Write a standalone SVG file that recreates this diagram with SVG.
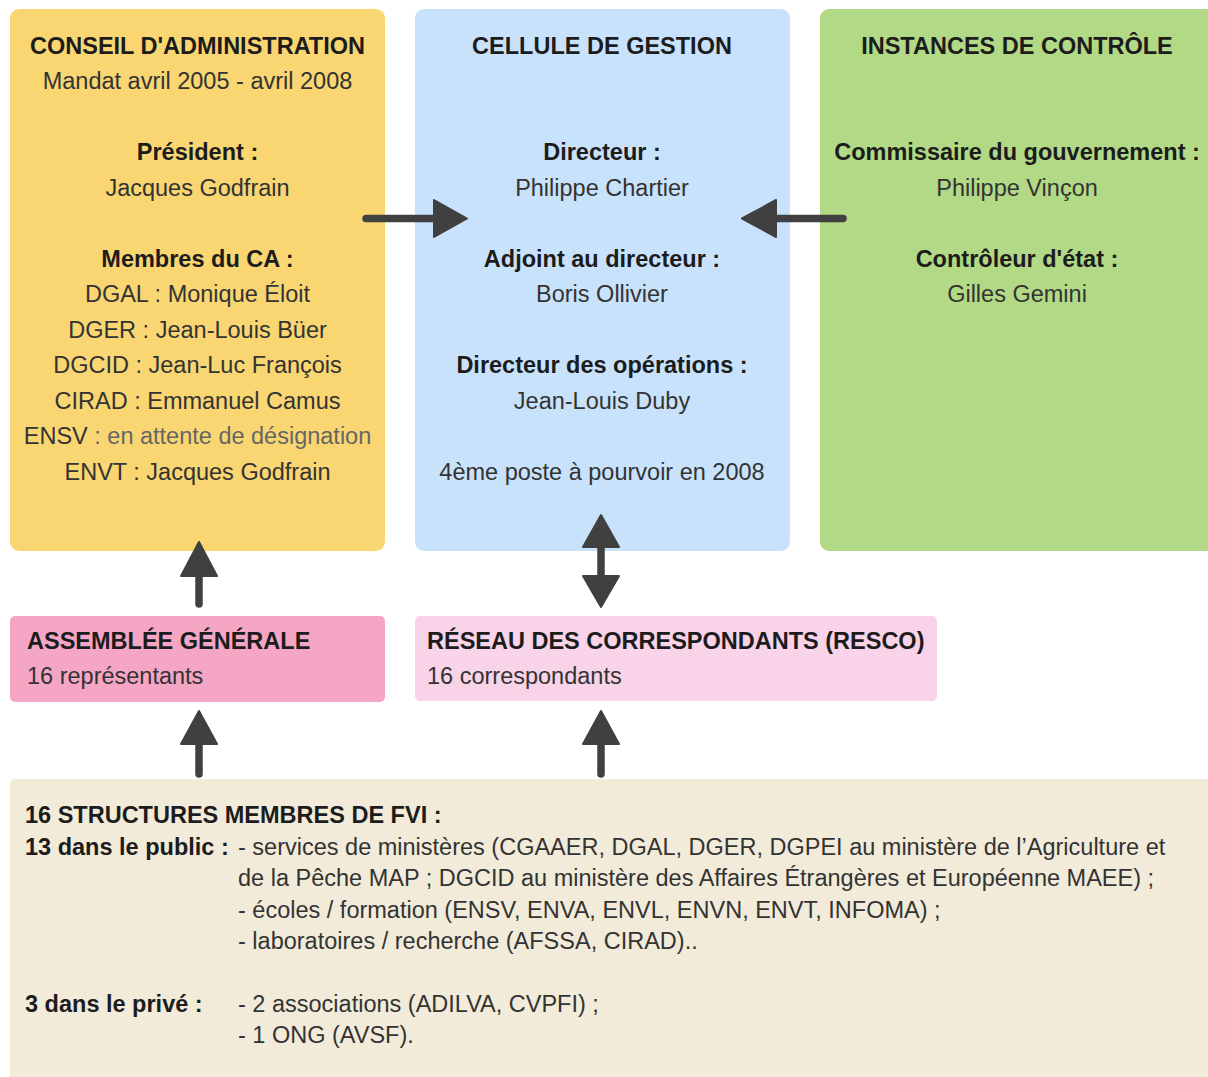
<svg xmlns="http://www.w3.org/2000/svg" width="1208" height="1077" viewBox="0 0 1208 1077">
<defs>
<style>
text{font-family:"Liberation Sans",Arial,sans-serif;font-size:23.5px;fill:#333}
.b{font-weight:bold;fill:#1c1c1c}
.c{text-anchor:middle}
.g{fill:#666}
.box{stroke:none}
.conn line{stroke:#404040;stroke-width:7.5;stroke-linecap:round}
.conn polygon{fill:#404040;stroke:#404040;stroke-width:2;stroke-linejoin:round}
</style>
</defs>
<rect width="1208" height="1077" fill="#ffffff"/>

<g id="conseil">
<rect class="box" x="10" y="9" width="375" height="542" rx="9" fill="#f9d672"/>
<text class="b c" x="197.5" y="53.5">CONSEIL D'ADMINISTRATION</text>
<text class="c" x="197.5" y="89">Mandat avril 2005 - avril 2008</text>
<text class="b c" x="197.5" y="160">Président :</text>
<text class="c" x="197.5" y="195.5">Jacques Godfrain</text>
<text class="b c" x="197.5" y="266.5">Membres du CA :</text>
<text class="c" x="197.5" y="302">DGAL : Monique Éloit</text>
<text class="c" x="197.5" y="337.5">DGER : Jean-Louis Büer</text>
<text class="c" x="197.5" y="373">DGCID : Jean-Luc François</text>
<text class="c" x="197.5" y="408.5">CIRAD : Emmanuel Camus</text>
<text class="c" x="197.5" y="444">ENSV<tspan class="g"> : en attente de désignation</tspan></text>
<text class="c" x="197.5" y="479.5">ENVT : Jacques Godfrain</text>
</g>

<g id="cellule">
<rect class="box" x="415" y="9" width="375" height="542" rx="9" fill="#c9e2fb"/>
<text class="b c" x="602" y="53.5">CELLULE DE GESTION</text>
<text class="b c" x="602" y="160">Directeur :</text>
<text class="c" x="602" y="195.5">Philippe Chartier</text>
<text class="b c" x="602" y="266.5">Adjoint au directeur :</text>
<text class="c" x="602" y="302">Boris Ollivier</text>
<text class="b c" x="602" y="373">Directeur des opérations :</text>
<text class="c" x="602" y="408.5">Jean-Louis Duby</text>
<text class="c" x="602" y="479.5" fill="#555">4ème poste à pourvoir en 2008</text>
</g>

<g id="controle">
<rect class="box" x="820" y="9" width="400" height="542" rx="9" fill="#b2d985"/>
<text class="b c" x="1017" y="53.5">INSTANCES DE CONTRÔLE</text>
<text class="b c" x="1017" y="160">Commissaire du gouvernement :</text>
<text class="c" x="1017" y="195.5">Philippe Vinçon</text>
<text class="b c" x="1017" y="266.5">Contrôleur d'état :</text>
<text class="c" x="1017" y="302">Gilles Gemini</text>
</g>

<g id="assemblee">
<rect class="box" x="10" y="616" width="375" height="86" rx="5" fill="#f6a6c5"/>
<text class="b" x="27" y="648.5">ASSEMBLÉE GÉNÉRALE</text>
<text x="27" y="684">16 représentants</text>
</g>

<g id="resco">
<rect class="box" x="415" y="616" width="522" height="85" rx="5" fill="#f9d3e8"/>
<text class="b" x="427" y="648.5">RÉSEAU DES CORRESPONDANTS (RESCO)</text>
<text x="427" y="684">16 correspondants</text>
</g>

<g id="structures">
<rect class="box" x="10" y="779" width="1210" height="310" rx="5" fill="#f2ebda"/>
<text class="b" x="25" y="823">16 STRUCTURES MEMBRES DE FVI :</text>
<text class="b" x="25" y="854.5">13 dans le public :</text>
<text x="238" y="854.5">- services de ministères (CGAAER, DGAL, DGER, DGPEI au ministère de l’Agriculture et</text>
<text x="238" y="886">de la Pêche MAP ; DGCID au ministère des Affaires Étrangères et Européenne MAEE) ;</text>
<text x="238" y="917.5">- écoles / formation (ENSV, ENVA, ENVL, ENVN, ENVT, INFOMA) ;</text>
<text x="238" y="949">- laboratoires / recherche (AFSSA, CIRAD)..</text>
<text class="b" x="25" y="1011.5">3 dans le privé :</text>
<text x="238" y="1011.5">- 2 associations (ADILVA, CVPFI) ;</text>
<text x="238" y="1043">- 1 ONG (AVSF).</text>
</g>

<g id="connectors" class="conn">
<!-- CA -> Cellule -->
<line x1="366" y1="218.5" x2="436" y2="218.5"/>
<polygon points="434,200 467,218.5 434,237"/>
<!-- Controle -> Cellule -->
<line x1="843" y1="218.5" x2="774" y2="218.5"/>
<polygon points="776,200 742,218.5 776,237"/>
<!-- AG -> CA -->
<line x1="199" y1="604" x2="199" y2="574"/>
<polygon points="181,576 199,542 217,576"/>
<!-- Cellule <-> RESCO -->
<line x1="601" y1="545" x2="601" y2="578"/>
<polygon points="583,547 601,515 619,547"/>
<polygon points="583,576 601,607 619,576"/>
<!-- Structures -> AG -->
<line x1="199" y1="774" x2="199" y2="742"/>
<polygon points="181,744 199,711 217,744"/>
<!-- Structures -> RESCO -->
<line x1="601" y1="774" x2="601" y2="742"/>
<polygon points="583,744 601,711 619,744"/>
</g>
</svg>
